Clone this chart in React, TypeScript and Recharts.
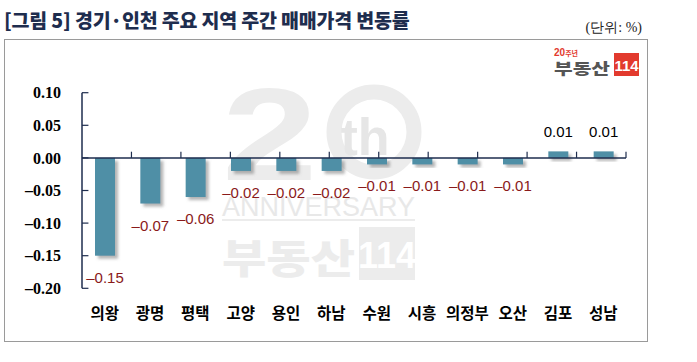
import { BarChart, Bar, XAxis, YAxis, ReferenceLine, LabelList } from "recharts";

const REGIONS = ["의왕", "광명", "평택", "고양", "용인", "하남", "수원", "시흥", "의정부", "오산", "김포", "성남"];
const CHANGES = [-0.15, -0.07, -0.06, -0.02, -0.02, -0.02, -0.01, -0.01, -0.01, -0.01, 0.01, 0.01];
const Y_TICKS = [0.1, 0.05, 0, -0.05, -0.1, -0.15, -0.2];
const CAT_EDGES = [1, 2, 3, 4, 5, 6, 7, 8, 9, 10, 11, 12];

const TITLE = "[그림 5] 경기·인천 주요 지역 주간 매매가격 변동률";
const UNIT = "(단위: %)";

const NAVY = "#1E2D4E";
const BAR = "#4F8FA6";
const NEG_LABEL = "#8A1A1A";
const KR = "'Noto Sans CJK KR', 'Noto Sans', sans-serif";

const data = REGIONS.map((name, i) => ({ name, value: CHANGES[i] }));

const fmt = (v: number) => (v < 0 ? "\u2013" : "") + Math.abs(v).toFixed(2);

function ShadowBar(props: any) {
  const { x, y, width, height } = props;
  const top = Math.min(y, y + height);
  const h = Math.abs(height);
  return <rect x={x} y={top} width={width} height={h} fill={BAR} filter="url(#barShadow)" />;
}

function ValueLabel(props: any) {
  const { x, y, width, height, value } = props;
  const top = Math.min(y, y + height);
  const bottom = Math.max(y, y + height);
  const cx = x + width / 2;
  const neg = value < 0;
  return (
    <text
      x={cx}
      y={neg ? bottom + 27 : top - 14}
      textAnchor="middle"
      fill={neg ? NEG_LABEL : "#000"}
      fontSize={15}
      fontFamily="'Liberation Sans', Arial, sans-serif"
    >
      {fmt(value)}
    </text>
  );
}

function Watermark() {
  const c = "#ececec";
  return (
    <svg width={697} height={362} style={{ position: "absolute", left: 0, top: 0 }}>
      <text x={222} y={180} fontSize={132} fontWeight={700} fill={c} fontFamily="'Liberation Sans', Arial" transform="translate(222 0) scale(1.3 1) translate(-222 0)">
        2
      </text>
      <circle cx={374} cy={132} r={40} fill="none" stroke={c} strokeWidth={15} />
      <text x={365} y={155} textAnchor="middle" fontSize={52} fontWeight={700} fill="#e6e6e6" fontFamily="'Liberation Sans', Arial">
        th
      </text>
      <text x={222} y={216} fontSize={27} fill="#e8e8e8" fontFamily="'Liberation Sans', Arial" textLength={193} lengthAdjust="spacing">
        ANNIVERSARY
      </text>
      <rect x={222} y={219} width={193} height={2} fill={c} />
      <text x={222} y={273} fontSize={40} fontWeight={900} fill={c} fontFamily={KR} textLength={133} lengthAdjust="spacingAndGlyphs">
        부동산
      </text>
      <rect x={359} y={227} width={56} height={53} fill={c} />
      <text x={387} y={268} textAnchor="middle" fontSize={36} fontWeight={700} fill="#fff" fontFamily="'Liberation Sans Narrow', 'Liberation Sans', Arial">
        114
      </text>
    </svg>
  );
}

function Logo() {
  return (
    <svg width={90} height={32} style={{ position: "absolute", left: 552, top: 47 }}>
      <text x={2} y={9} fontSize={10} fontWeight={700} fill="#E23A2E" fontFamily="'Liberation Sans', Arial">
        20<tspan fontSize={7} fontFamily={KR}>주년</tspan>
      </text>
      <text x={2} y={27} fontSize={15} fontWeight={900} fill="#555" fontFamily={KR} textLength={56} lengthAdjust="spacingAndGlyphs">
        부동산
      </text>
      <rect x={62} y={6} width={25} height={23} fill="#E23A2E" />
      <text x={74.5} y={24} textAnchor="middle" fontSize={15} fontWeight={700} fill="#fff" fontFamily="'Liberation Sans Narrow', 'Liberation Sans', Arial">
        114
      </text>
    </svg>
  );
}

export default function App() {
  return (
    <div style={{ position: "absolute", left: 0, top: 0, width: 697, height: 362, background: "#fff", overflow: "hidden" }}>
      <div
        style={{
          position: "absolute",
          left: 4,
          top: 5,
          fontFamily: KR,
          fontWeight: 900,
          fontSize: 19.5,
          color: NAVY,
          whiteSpace: "nowrap",
          letterSpacing: -0.2,
        }}
      >
        {TITLE}
      </div>
      <div
        style={{
          position: "absolute",
          right: 55,
          top: 19,
          fontFamily: "'Liberation Serif', serif",
          fontSize: 14,
          color: "#222",
          whiteSpace: "nowrap",
        }}
      >
        {UNIT}
      </div>
      <div style={{ position: "absolute", left: 4, top: 39, width: 642, height: 301, border: "1px solid #9a9a9a" }} />
      <Watermark />
      <Logo />
      <div style={{ position: "absolute", left: 0, top: 0 }}>
        <BarChart width={697} height={362} data={data} margin={{ top: 92.7, right: 71, left: 22, bottom: 43.7 }}>
          <defs>
            <filter id="barShadow" x="-30%" y="-30%" width="180%" height="180%">
              <feDropShadow dx={3} dy={3} stdDeviation={1.6} floodColor="#777" floodOpacity={0.55} />
            </filter>
          </defs>
          <XAxis
            dataKey="name"
            interval={0}
            axisLine={false}
            tickLine={false}
            tickSize={0}
            tickMargin={20}
            tick={{ fill: "#000", fontSize: 15.5, fontWeight: 700, fontFamily: KR }}
          />
          <XAxis xAxisId="n" type="number" domain={[0, 12]} hide />
          <YAxis
            domain={[-0.2, 0.1]}
            ticks={Y_TICKS}
            width={60}
            tickFormatter={fmt}
            axisLine={{ stroke: NAVY, strokeWidth: 1.5 }}
            tickLine={false}
            tickSize={0}
            tickMargin={21}
            tick={{ fill: "#000", fontSize: 16, fontWeight: 700, fontFamily: "'Liberation Serif', serif" }}
          />
          <Bar dataKey="value" barSize={20} shape={ShadowBar} isAnimationActive={false}>
            <LabelList dataKey="value" content={ValueLabel} />
          </Bar>
          <ReferenceLine y={0} stroke={NAVY} strokeWidth={1.5} />
          {Y_TICKS.map((t) => (
            <ReferenceLine
              key={"y" + t}
              xAxisId="n"
              segment={[
                { x: 0, y: t },
                { x: 0.13, y: t },
              ]}
              stroke={NAVY}
              strokeWidth={1.2}
            />
          ))}
          {CAT_EDGES.map((e) => (
            <ReferenceLine
              key={"x" + e}
              xAxisId="n"
              segment={[
                { x: e, y: 0 },
                { x: e, y: 0.0095 },
              ]}
              stroke={NAVY}
              strokeWidth={1.2}
            />
          ))}
        </BarChart>
      </div>
    </div>
  );
}
